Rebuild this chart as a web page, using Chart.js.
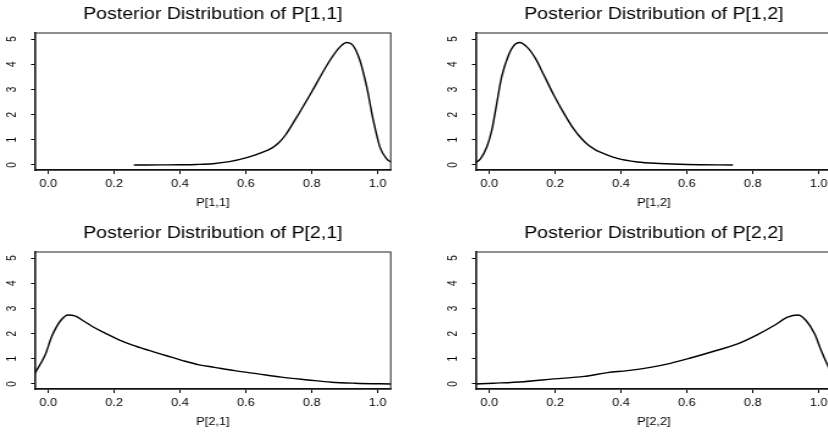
<!DOCTYPE html>
<html><head><meta charset="utf-8">
<script src="https://cdn.jsdelivr.net/npm/chart.js@4/dist/chart.umd.min.js"></script>
<style>
html,body{margin:0;padding:0;background:#fff;overflow:hidden;width:828px;height:432px;position:relative}
canvas{position:absolute;transform-origin:0 0}
</style></head><body>
<canvas id="c1"></canvas><canvas id="c2"></canvas><canvas id="c3"></canvas><canvas id="c4"></canvas>
<script>
// ---- data ----
const xTicks = [0, 0.2, 0.4, 0.6, 0.8, 1.0];
const xTickLabels = ['0.0', '0.2', '0.4', '0.6', '0.8', '1.0'];
const yTicks = [0, 1, 2, 3, 4, 5];
const yTickLabels = ['0', '1', '2', '3', '4', '5'];
const panelTitles = ['Posterior Distribution of P[1,1]', 'Posterior Distribution of P[1,2]',
                     'Posterior Distribution of P[2,1]', 'Posterior Distribution of P[2,2]'];
const axisLabels = ['P[1,1]', 'P[1,2]', 'P[2,1]', 'P[2,2]'];

const p11X = [0.26, 0.30, 0.35, 0.40, 0.45, 0.50, 0.55, 0.60, 0.65, 0.68, 0.70, 0.72, 0.75, 0.80, 0.85, 0.88, 0.906, 0.924, 0.946, 0.967, 0.987, 1.007, 1.027, 1.045];
const p11Y = [0.0, 0.0, 0.003, 0.008, 0.02, 0.05, 0.13, 0.28, 0.5, 0.68, 0.88, 1.18, 1.8, 2.9, 4.04, 4.6, 4.86, 4.77, 4.17, 3.11, 1.78, 0.72, 0.25, 0.08];

const p12X = [-0.045, -0.026, -0.007, 0.008, 0.023, 0.038, 0.059, 0.074, 0.092, 0.115, 0.14, 0.166, 0.196, 0.227, 0.257, 0.28, 0.298, 0.32, 0.339, 0.389, 0.45, 0.517, 0.6, 0.74];
const p12Y = [0.06, 0.25, 0.72, 1.38, 2.45, 3.51, 4.37, 4.73, 4.86, 4.68, 4.24, 3.57, 2.78, 2.05, 1.42, 1.05, 0.82, 0.62, 0.5, 0.26, 0.12, 0.06, 0.02, 0.0];

const p21X = [-0.045, -0.039, -0.01, 0.012, 0.038, 0.061, 0.083, 0.109, 0.134, 0.174, 0.215, 0.256, 0.306, 0.357, 0.408, 0.458, 0.505, 0.566, 0.637, 0.708, 0.789, 0.86, 0.931, 1.045];
const p21Y = [0.33, 0.46, 1.13, 1.92, 2.52, 2.74, 2.69, 2.49, 2.28, 2.01, 1.75, 1.54, 1.33, 1.13, 0.93, 0.76, 0.66, 0.53, 0.40, 0.27, 0.16, 0.07, 0.03, 0.0];

const p22X = [-0.045, 0.013, 0.105, 0.196, 0.288, 0.359, 0.42, 0.489, 0.55, 0.611, 0.672, 0.754, 0.815, 0.865, 0.906, 0.937, 0.962, 0.988, 1.008, 1.031, 1.045];
const p22Y = [0.0, 0.03, 0.09, 0.2, 0.3, 0.45, 0.53, 0.66, 0.82, 1.03, 1.26, 1.59, 1.96, 2.32, 2.65, 2.74, 2.52, 1.99, 1.33, 0.66, 0.4];

// ---- layout ----
const S = 1.22;             // horizontal stretch of the reference
const FONT = "'Liberation Sans', Arial, Helvetica, sans-serif";
const PANEL_W = 440.7, PANEL_H = 216;
const CW = Math.round(PANEL_W / S);
const Y_AXIS_W = 35 / S;
const RIGHT_PAD = CW - 390.7 / S;

const panels = [
  {id: 'c1', left: 0,     top: 0,     xs: p11X, ys: p11Y, title: panelTitles[0], label: axisLabels[0]},
  {id: 'c2', left: 440.7, top: 0,     xs: p12X, ys: p12Y, title: panelTitles[1], label: axisLabels[1]},
  {id: 'c3', left: 0,     top: 218.5, xs: p21X, ys: p21Y, title: panelTitles[2], label: axisLabels[2]},
  {id: 'c4', left: 440.7, top: 218.5, xs: p22X, ys: p22Y, title: panelTitles[3], label: axisLabels[3]}
];

const boxPlugin = {
  id: 'box',
  afterDraw(chart) {
    const a = chart.chartArea, ctx = chart.ctx;
    ctx.save();
    ctx.strokeStyle = '#222';
    ctx.lineWidth = 1;
    ctx.strokeRect(a.left, a.top, a.right - a.left, a.bottom - a.top);
    ctx.restore();
  }
};

panels.forEach(p => {
  const cv = document.getElementById(p.id);
  cv.width = CW; cv.height = PANEL_H;
  cv.style.width = CW + 'px'; cv.style.height = PANEL_H + 'px';
  cv.style.left = p.left + 'px'; cv.style.top = p.top + 'px';
  cv.style.transform = 'scaleX(' + S + ')';
  new Chart(cv, {
    type: 'line',
    data: {datasets: [{
      data: p.xs.map((x, i) => ({x: x, y: p.ys[i]})),
      borderColor: '#000', borderWidth: 1.4, pointRadius: 0,
      cubicInterpolationMode: 'monotone', fill: false
    }]},
    options: {
      responsive: false, animation: false, devicePixelRatio: 1,
      layout: {padding: {left: 0, right: RIGHT_PAD, top: 0, bottom: 0}},
      plugins: {
        legend: {display: false}, tooltip: {enabled: false},
        title: {display: true, text: p.title, color: '#000', fullSize: false,
                font: {family: FONT, size: 16, weight: 'normal'},
                padding: {top: 5.4, bottom: 8.4}}
      },
      scales: {
        x: {
          type: 'linear', min: -0.04, max: 1.04,
          afterBuildTicks: s => { s.ticks = xTicks.map(v => ({value: v})); },
          afterFit: s => { s.height = 46; },
          ticks: {callback: (v, i) => xTickLabels[i], color: '#000', autoSkip: false,
                  maxRotation: 0, padding: 3.5, font: {family: FONT, size: 10.5}},
          grid: {drawOnChartArea: false, drawTicks: true, tickLength: 4, color: '#000', tickColor: '#000'},
          border: {display: true, color: '#000', width: 1.6},
          title: {display: true, text: p.label, color: '#000',
                  font: {family: FONT, size: 10.5}, padding: {top: 0, bottom: 7}}
        },
        y: {
          type: 'linear', min: -0.2, max: 5.24,
          afterBuildTicks: s => { s.ticks = yTicks.map(v => ({value: v})); },
          afterFit: s => { s.width = Y_AXIS_W; },
          ticks: {callback: (v, i) => yTickLabels[i], color: '#000', autoSkip: false,
                  minRotation: 90, maxRotation: 90, crossAlign: 'center', padding: 12.5,
                  font: {family: FONT, size: 10}},
          grid: {drawOnChartArea: false, drawTicks: true, tickLength: 4 / S, color: '#000', tickColor: '#000'},
          border: {display: true, color: '#000', width: 1.5}
        }
      }
    },
    plugins: [boxPlugin]
  });
});
</script>
</body></html>
